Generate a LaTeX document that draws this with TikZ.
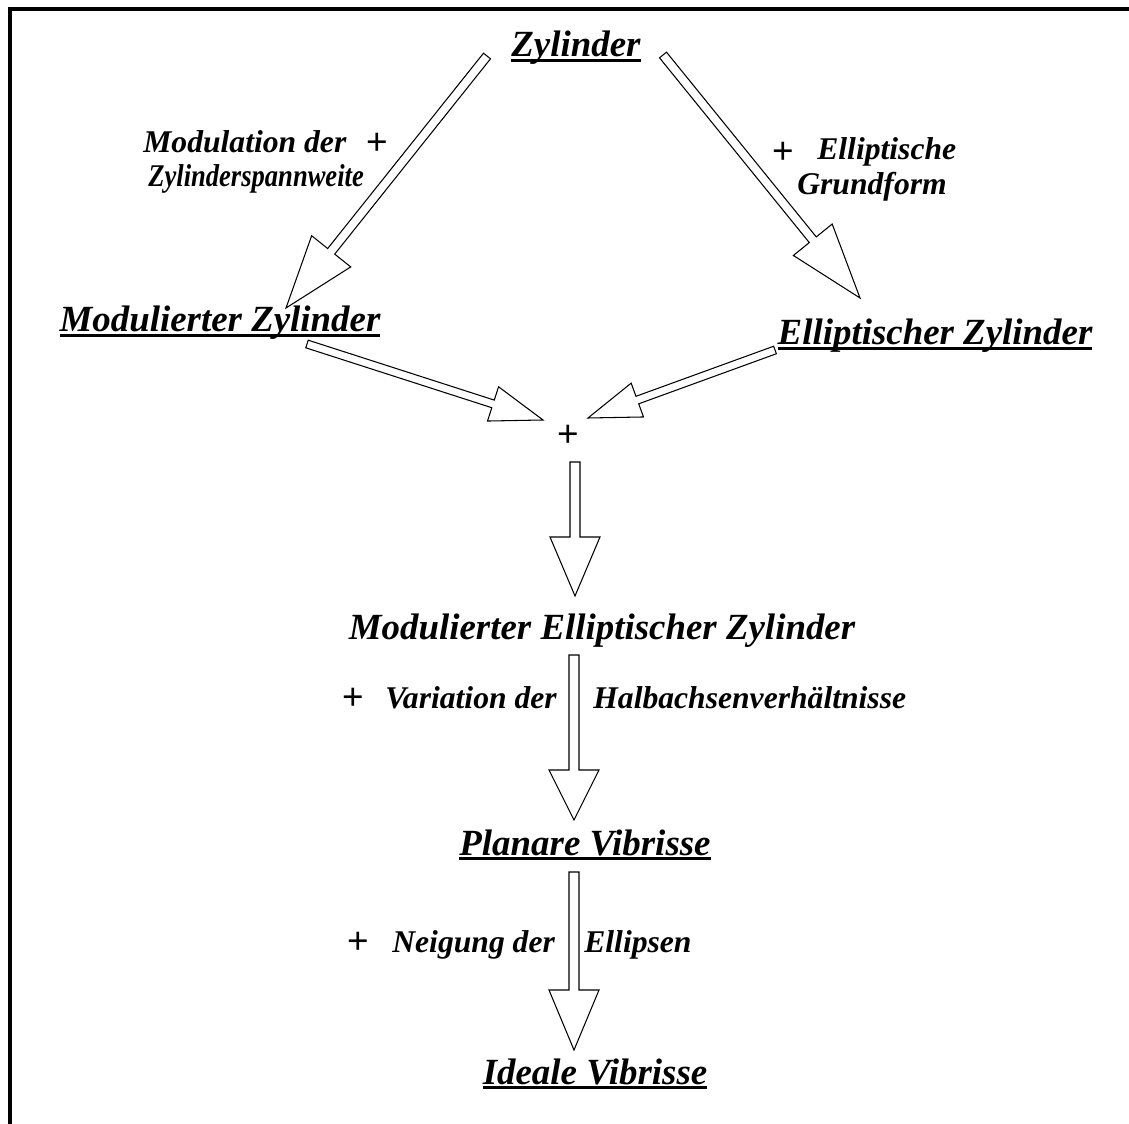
\documentclass[tikz,border=0pt]{standalone}
\usepackage{fontspec}
\setmainfont{Liberation Serif}
\newfontfamily\plusfont{Liberation Sans}
\usetikzlibrary{calc}
\usetikzlibrary{positioning}

% underline close to the baseline
\newcommand\zul[1]{\setbox0\hbox{#1}\rlap{\rule[-0.13em]{\wd0}{0.065em}}\box0}

% hollow block arrow: from, to, shaft half width, head half width, head length
\newcommand\blockarrow[5]{%
  \coordinate (hb) at ($(#2)!#5!(#1)$);
  \draw[blockline] ($(#1)!#3!90:(#2)$) -- ($(hb)!#3!90:(#2)$) -- ($(hb)!#4!90:(#2)$)
    -- (#2) -- ($(hb)!#4!-90:(#2)$) -- ($(hb)!#3!-90:(#2)$) -- ($(#1)!#3!-90:(#2)$) -- cycle;}

\tikzset{
  blockline/.style={line width=0.6pt},
  title/.style={anchor=base, inner sep=0pt, font=\fontsize{21}{25}\selectfont\bfseries\itshape},
  remark/.style={anchor=base west, inner sep=0pt, font=\fontsize{18}{21}\selectfont\bfseries\itshape},
  plussign/.style={inner sep=0pt, font=\fontsize{21}{25}\selectfont\plusfont}
}

\begin{document}
\begin{tikzpicture}[x=0.02cm, y=-0.02cm]
      \useasboundingbox (0,0) rectangle (1129,1124);
      \draw [line width=1.8pt] (10,1124) -- (10,9) -- (1129,9);

      % shapes
      \node [title] (zyl) at (576,57) {\zul{Zylinder}};
      \node [title] (modzyl) at (220,332) {\zul{Modulierter Zylinder}};
      \node [title] (ellzyl) at (935,345) {\zul{Elliptischer Zylinder}};
      \node [plussign] (join) at (568,436) {+};
      \node [title] (modell) at (602,640) {Modulierter Elliptischer Zylinder};
      \node [title] (planar) at (585,855) {\zul{Planare Vibrisse}};
      \node [title] (ideal) at (595,1084) {\zul{Ideale Vibrisse}};

      % steps
      \node [remark] (modlabA) at (143,153) {Modulation der};
      \node [plussign] (modplus) at (377,144) {+};
      \node [remark] (modlabB) at (148,187) {\scalebox{0.84}[1]{Zylinderspannweite}};
      \node [plussign] (ellplus) at (783,153) {+};
      \node [remark] (ellabA) at (817,160) {Elliptische};
      \node [remark] (ellabB) at (797,195) {Grundform};
      \node [plussign] (varplus) at (353,699) {+};
      \node [remark] (varlabA) at (385,708) {Variation der};
      \node [remark] (varlabB) at (593,708) {Halbachsenverhältnisse};
      \node [plussign] (negplus) at (358,943) {+};
      \node [remark] (neglabA) at (392,952) {Neigung der};
      \node [remark] (neglabB) at (584,952) {Ellipsen};

      % arrow ends
      \coordinate (zylL) at (487,56);
      \coordinate (zylR) at (663,55);
      \coordinate (modzylT) at (286,308);
      \coordinate (ellzylT) at (860,298);
      \coordinate (modzylB) at (307,344);
      \coordinate (ellzylB) at (775,350);
      \coordinate (joinL) at (543,420);
      \coordinate (joinR) at (588,418);
      \coordinate (joinB) at (575,462);
      \coordinate (modellT) at (575,596);
      \coordinate (modellB) at (574,655);
      \coordinate (planarT) at (574,820);
      \coordinate (planarB) at (574,872);
      \coordinate (idealT) at (574,1050);

      \blockarrow{zylL}{modzylT}{0.09cm}{0.5cm}{1.45cm}
      \blockarrow{zylR}{ellzylT}{0.09cm}{0.5cm}{1.5cm}
      \blockarrow{modzylB}{joinL}{0.08cm}{0.36cm}{1.05cm}
      \blockarrow{ellzylB}{joinR}{0.08cm}{0.36cm}{1.05cm}
      \blockarrow{joinB}{modellT}{0.1cm}{0.5cm}{1.18cm}
      \blockarrow{modellB}{planarT}{0.1cm}{0.5cm}{1.0cm}
      \blockarrow{planarB}{idealT}{0.1cm}{0.5cm}{1.2cm}
\end{tikzpicture}
\end{document}
